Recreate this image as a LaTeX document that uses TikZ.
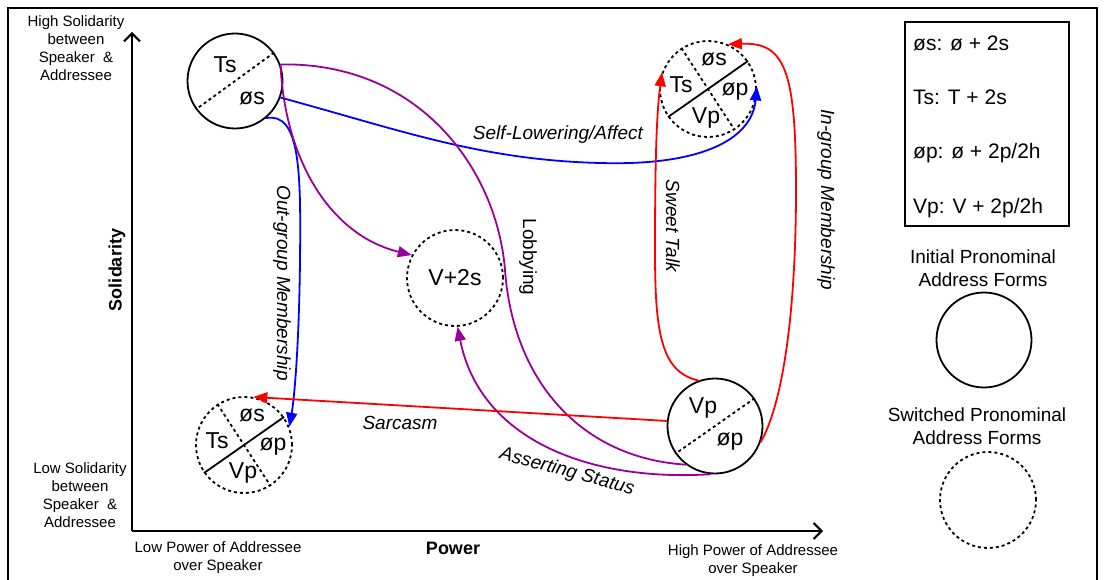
\documentclass[tikz,border=0pt]{standalone}
\usepackage{fontspec}
\setmainfont{Liberation Sans}
\usetikzlibrary{arrows.meta}
\definecolor{myred}{RGB}{255,0,0}
\definecolor{myblue}{RGB}{0,0,255}
\definecolor{mypurple}{RGB}{153,0,153}
\begin{document}
\begin{tikzpicture}[x=1pt,y=-1pt,
  initial/.style={circle,draw,line width=1.8pt,minimum size=95pt,inner sep=0pt},
  switched/.style={circle,draw,line width=1.8pt,dash pattern=on 3pt off 3pt,minimum size=96pt,inner sep=0pt},
  cl/.style={font=\fontsize{23}{26}\selectfont, inner sep=0pt},
  edgelbl/.style={font=\fontsize{19}{22}\selectfont\itshape, inner sep=0pt},
  uplbl/.style={font=\fontsize{19}{22}\selectfont, inner sep=0pt},
  axlbl/.style={font=\fontsize{15}{18}\selectfont, align=center, inner sep=0pt},
  leglbl/.style={font=\fontsize{21}{24}\selectfont, inner sep=0pt, anchor=west},
  legcap/.style={font=\fontsize{19}{23}\selectfont, align=center, inner sep=0pt},
  bold/.style={font=\fontsize{18}{21}\selectfont\bfseries, inner sep=0pt},
  conn/.style={line width=1.8pt, -{Triangle[length=14pt,width=11pt]}},
  plain/.style={line width=1.8pt},
  divs/.style={line width=1.8pt},
  divd/.style={line width=1.8pt, dash pattern=on 3pt off 3pt},
  axis/.style={line width=2pt, -{Straight Barb[length=8pt,width=16pt,line width=2pt]}},
]
\useasboundingbox (0,0) rectangle (1106,580);
% frame
\coordinate (f1) at (8,580);
\coordinate (f2) at (8,8);
\coordinate (f3) at (1097,8);
\coordinate (f4) at (1097,580);
\draw[line width=2pt] (f1) -- (f2) -- (f3) -- (f4);

% axes
\coordinate (O) at (132,531);
\coordinate (ytip) at (132,32);
\coordinate (xtip) at (823,531);
\draw[axis] (O) -- (ytip);
\draw[axis] (O) -- (xtip);

\node[axlbl] (hs) at (76,48) {High Solidarity\\between\\Speaker~~\&\\Addressee};
\node[axlbl] (ls) at (80,495) {Low Solidarity\\between\\Speaker~~\&\\Addressee};
\node[axlbl] (lp) at (218,558) {Low Power of Addressee\\over Speaker};
\node[axlbl] (hp) at (753,561) {High Power of Addressee\\over Speaker};
\node[bold] (pw) at (453,548) {Power};
\node[bold, rotate=90] (sd) at (117,270) {Solidarity};

% legend
\node[draw, line width=1.2pt, minimum width=164pt, minimum height=204pt, inner sep=0pt] (legbox) at (987,124) {};
\node[leglbl] (l1) at (913,43) {øs: ø + 2s};
\node[leglbl] (l2) at (913,97) {Ts: T + 2s};
\node[leglbl] (l3) at (913,153) {øp: ø + 2p/2h};
\node[leglbl] (l4) at (913,208) {Vp: V + 2p/2h};
\node[legcap] (ic) at (983,268) {Initial Pronominal\\Address Forms};
\node[initial] (leg1) at (984,340) {};
\node[legcap] (sc) at (977,426) {Switched Pronominal\\Address Forms};
\node[switched] (leg2) at (988,500) {};

% main circles
\node[initial] (ts) at (235,81) {};
\draw[divd] (ts.36) -- (ts.216);
\node[cl] (tsa) at (225,65) {Ts};
\node[cl] (tsb) at (252,98) {øs};

\node[switched] (tr) at (708,89) {};
\draw[divs] (tr.35) -- (tr.215);
\draw[divd] (tr.123) -- (tr.303);
\node[cl] (tra) at (714,59) {øs};
\node[cl] (trb) at (681,85) {Ts};
\node[cl] (trc) at (735,92) {øp};
\node[cl] (trd) at (706,118) {Vp};

\node[switched] (bl) at (244,445) {};
\draw[divs] (bl.35) -- (bl.215);
\draw[divd] (bl.123) -- (bl.303);
\node[cl] (bla) at (252,415) {øs};
\node[cl] (blb) at (217,441) {Ts};
\node[cl] (blc) at (273,447) {øp};
\node[cl] (bld) at (243,473) {Vp};

\node[switched] (v) at (455,278) {};
\node[cl] (va) at (455,278) {V+2s};

\node[initial] (vp) at (715,426) {};
\draw[divd] (vp.35) -- (vp.215);
\node[cl] (vpa) at (703,408) {Vp};
\node[cl] (vpb) at (730,442) {øp};

% connectors
\draw[conn, myblue] (ts.-50) .. controls (300,112) and (301,170) .. (300,260)
  .. controls (299,350) and (294,400) .. (bl.22);
\draw[conn, myblue] (ts.-20) .. controls (400,130) and (480,160) .. (600,163)
  .. controls (700,166) and (752,140) .. (tr.3);
\draw[conn, mypurple] (ts.20) .. controls (285,160) and (330,235) .. (v.152);
\draw[plain, mypurple] (ts.20) .. controls (420,62) and (497,170) .. (505,270)
  .. controls (513,380) and (580,458) .. (vp.-127);
\draw[conn, mypurple] (vp.-95) .. controls (590,482) and (480,440) .. (v.-87);
\draw[conn, myred] (vp.174) -- (bl.79);
\draw[conn, myred] (vp.110) .. controls (660,372) and (655,330) .. (655,250)
  .. controls (655,150) and (657,110) .. (tr.160);
\draw[conn, myred] (vp.-20) .. controls (785,400) and (796,300) .. (796,190)
  .. controls (796,70) and (785,42) .. (tr.66);

% connector labels
\node[edgelbl, rotate=-90] (og) at (282,283) {Out-group Membership};
\node[edgelbl] (sl) at (558,135) {Self-Lowering/Affect};
\node[uplbl, rotate=-90] (lb) at (528,257) {Lobbying};
\node[edgelbl, rotate=-90] (st) at (673,226) {Sweet Talk};
\node[edgelbl, rotate=-90] (ig) at (826,200) {In-group Membership};
\node[edgelbl] (sa) at (400,423) {Sarcasm};
\node[edgelbl, rotate=-15] (as) at (567,472) {Asserting Status};
\end{tikzpicture}
\end{document}
